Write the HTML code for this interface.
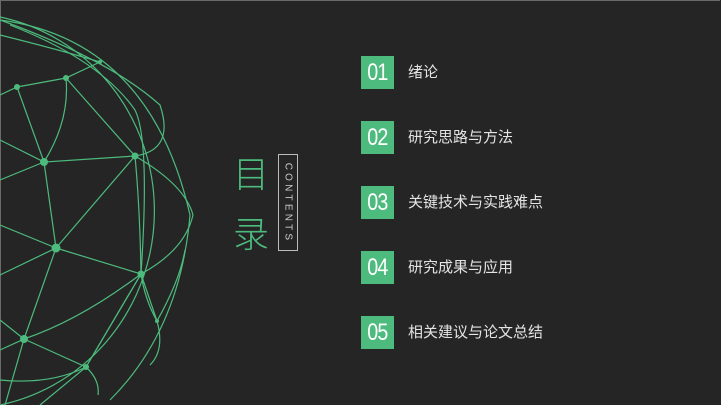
<!DOCTYPE html>
<html><head><meta charset="utf-8"><style>
html,body{margin:0;padding:0}
body{width:721px;height:405px;background:#252525;position:relative;overflow:hidden;font-family:"Liberation Sans","Noto Sans CJK SC",sans-serif}
.frame{position:absolute;left:0;top:0;width:719px;height:403px;border:1px solid #6a6a6a;border-right:none;border-bottom:none}
.num{position:absolute;left:361px;width:33px;height:33px;background:#4dbb7d;color:#fff;font-size:24px;line-height:33px;text-align:center}
.num span{display:inline-block;transform:scaleX(0.82);letter-spacing:-1px}
.t{position:absolute;left:408px;color:#e4e4e4;font-size:15px;line-height:33px}
.ml{position:absolute;color:#4dbb7d;font-size:36px;line-height:36px;font-family:"Noto Sans CJK SC",sans-serif;font-weight:300}
.ct{position:absolute;left:278px;top:154px;width:20px;height:97px;border:1px solid #bbb;box-sizing:border-box}
.ct span{position:absolute;left:50%;top:50%;transform:translate(-50%,-50%) rotate(90deg);color:#ccc;font-size:10px;letter-spacing:3.2px;white-space:nowrap}
</style></head><body>
<div class="frame"></div>
<svg width="721" height="405" style="position:absolute;left:0;top:0" fill="none" stroke="#4dbb7d" stroke-width="1.2">
<path d="M0,17 A193,198 0 0 1 0,405"/>
<path d="M0,20 Q150,40 190,215 Q180,330 110,400"/>
<path d="M0,20 Q110,60 160,105 Q175,150 135,156"/>
<path d="M10,25 Q100,60 135,110 Q150,140 141,274 Q145,300 157,321 Q165,350 150,365"/>
<path d="M0,35 Q60,50 100,62"/>
<path d="M17,87 L66,78 L100,62"/>
<path d="M0,95 L17,87 L44,162 M66,78 Q70,120 44,162"/>
<path d="M66,78 L135,156 L44,162 L56,248 L135,156"/>
<path d="M135,156 Q185,185 193,215 Q185,250 141,274 L56,248"/>
<path d="M135,156 Q140,210 141,274"/>
<path d="M0,140 L44,162 L0,180"/>
<path d="M0,225 L56,248 L0,275"/>
<path d="M56,248 L24,339 L0,350"/>
<path d="M24,339 L86,367 L141,274 M141,274 Q80,320 24,339"/>
<path d="M0,320 L24,339 L5,405"/>
<path d="M141,274 L157,321 M141,274 L86,367 L40,405"/>
<path d="M0,380 Q50,385 86,367 Q100,380 98,395"/>
<path d="M185,250 Q180,280 157,321"/>
</svg>
<svg width="721" height="405" style="position:absolute;left:0;top:0" fill="#4dbb7d">
<circle cx="17" cy="87" r="3"/><circle cx="66" cy="78" r="3"/><circle cx="100" cy="62" r="2"/>
<circle cx="44" cy="162" r="4"/><circle cx="135" cy="156" r="3.5"/><circle cx="56" cy="248" r="4.5"/>
<circle cx="141" cy="274" r="3.5"/><circle cx="24" cy="339" r="4"/><circle cx="86" cy="367" r="3"/><circle cx="157" cy="321" r="2"/>
</svg>
<div class="ml" style="left:233px;top:154px">目</div>
<div class="ml" style="left:233px;top:214px">录</div>
<div class="ct"><span>CONTENTS</span></div>
<div class="num" style="top:56px"><span>01</span></div><div class="t" style="top:56px">绪论</div>
<div class="num" style="top:121px"><span>02</span></div><div class="t" style="top:121px">研究思路与方法</div>
<div class="num" style="top:186px"><span>03</span></div><div class="t" style="top:186px">关键技术与实践难点</div>
<div class="num" style="top:251px"><span>04</span></div><div class="t" style="top:251px">研究成果与应用</div>
<div class="num" style="top:316px"><span>05</span></div><div class="t" style="top:316px">相关建议与论文总结</div>
</body></html>
